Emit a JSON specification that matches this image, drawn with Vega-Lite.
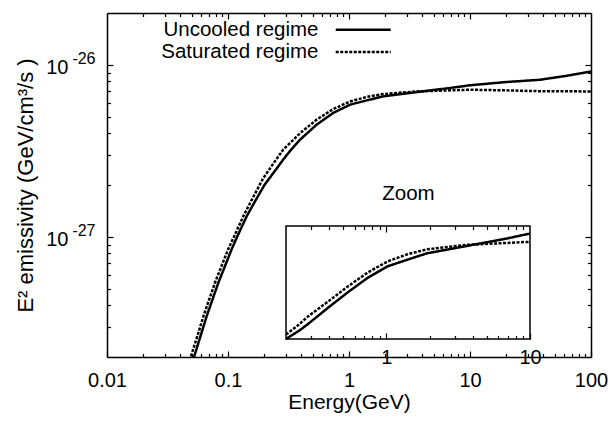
{
  "$schema": "https://vega.github.io/schema/vega-lite/v6.json",
  "width": 484,
  "height": 344,
  "autosize": {"type": "none"},
  "padding": {"left": 107, "top": 13, "right": 23, "bottom": 66},
  "background": "white",
  "config": {
    "view": {"stroke": null},
    "font": "Liberation Sans",
    "axis": {
      "grid": false,
      "domainColor": "black",
      "domainWidth": 1.5,
      "tickColor": "black",
      "tickWidth": 1.2,
      "labelColor": "black",
      "labelFont": "Liberation Sans",
      "labelFontSize": 20,
      "titleFont": "Liberation Sans",
      "titleFontSize": 21,
      "titleFontWeight": "normal",
      "titleColor": "black"
    },
    "legend": {
      "labelFont": "Liberation Sans",
      "labelFontSize": 20.5,
      "labelColor": "black"
    }
  },
  "data": {
    "values": [
      {"E": 0.05, "v": 1.8e-28, "regime": "Uncooled regime"},
      {"E": 0.0524, "v": 2.0e-28, "regime": "Uncooled regime"},
      {"E": 0.06, "v": 2.72e-28, "regime": "Uncooled regime"},
      {"E": 0.0667, "v": 3.46e-28, "regime": "Uncooled regime"},
      {"E": 0.0832, "v": 5.4e-28, "regime": "Uncooled regime"},
      {"E": 0.107, "v": 8.43e-28, "regime": "Uncooled regime"},
      {"E": 0.119, "v": 1.0e-27, "regime": "Uncooled regime"},
      {"E": 0.143, "v": 1.32e-27, "regime": "Uncooled regime"},
      {"E": 0.17, "v": 1.64e-27, "regime": "Uncooled regime"},
      {"E": 0.2, "v": 2.0e-27, "regime": "Uncooled regime"},
      {"E": 0.25, "v": 2.47e-27, "regime": "Uncooled regime"},
      {"E": 0.286, "v": 2.81e-27, "regime": "Uncooled regime"},
      {"E": 0.325, "v": 3.15e-27, "regime": "Uncooled regime"},
      {"E": 0.394, "v": 3.67e-27, "regime": "Uncooled regime"},
      {"E": 0.541, "v": 4.49e-27, "regime": "Uncooled regime"},
      {"E": 0.741, "v": 5.25e-27, "regime": "Uncooled regime"},
      {"E": 1.02, "v": 5.86e-27, "regime": "Uncooled regime"},
      {"E": 1.4, "v": 6.21e-27, "regime": "Uncooled regime"},
      {"E": 1.92, "v": 6.55e-27, "regime": "Uncooled regime"},
      {"E": 3.63, "v": 6.94e-27, "regime": "Uncooled regime"},
      {"E": 6.84, "v": 7.33e-27, "regime": "Uncooled regime"},
      {"E": 10, "v": 7.6e-27, "regime": "Uncooled regime"},
      {"E": 20, "v": 7.94e-27, "regime": "Uncooled regime"},
      {"E": 37.7, "v": 8.18e-27, "regime": "Uncooled regime"},
      {"E": 63, "v": 8.63e-27, "regime": "Uncooled regime"},
      {"E": 100, "v": 9.14e-27, "regime": "Uncooled regime"},
      {"E": 0.047, "v": 1.8e-28, "regime": "Saturated regime"},
      {"E": 0.0492, "v": 2.0e-28, "regime": "Saturated regime"},
      {"E": 0.0565, "v": 2.72e-28, "regime": "Saturated regime"},
      {"E": 0.0627, "v": 3.46e-28, "regime": "Saturated regime"},
      {"E": 0.078, "v": 5.4e-28, "regime": "Saturated regime"},
      {"E": 0.1, "v": 8.43e-28, "regime": "Saturated regime"},
      {"E": 0.112, "v": 1.0e-27, "regime": "Saturated regime"},
      {"E": 0.134, "v": 1.32e-27, "regime": "Saturated regime"},
      {"E": 0.165, "v": 1.75e-27, "regime": "Saturated regime"},
      {"E": 0.196, "v": 2.2e-27, "regime": "Saturated regime"},
      {"E": 0.2, "v": 2.24e-27, "regime": "Saturated regime"},
      {"E": 0.24, "v": 2.7e-27, "regime": "Saturated regime"},
      {"E": 0.286, "v": 3.21e-27, "regime": "Saturated regime"},
      {"E": 0.394, "v": 4.0e-27, "regime": "Saturated regime"},
      {"E": 0.541, "v": 4.8e-27, "regime": "Saturated regime"},
      {"E": 0.741, "v": 5.53e-27, "regime": "Saturated regime"},
      {"E": 1.02, "v": 6.12e-27, "regime": "Saturated regime"},
      {"E": 1.4, "v": 6.5e-27, "regime": "Saturated regime"},
      {"E": 1.92, "v": 6.76e-27, "regime": "Saturated regime"},
      {"E": 3.63, "v": 7.0e-27, "regime": "Saturated regime"},
      {"E": 6.84, "v": 7.1e-27, "regime": "Saturated regime"},
      {"E": 10, "v": 7.16e-27, "regime": "Saturated regime"},
      {"E": 20, "v": 7.1e-27, "regime": "Saturated regime"},
      {"E": 37.7, "v": 7.02e-27, "regime": "Saturated regime"},
      {"E": 100, "v": 7.0e-27, "regime": "Saturated regime"}
    ]
  },
  "layer": [
    {
      "layer": [
        {
          "mark": {"type": "line", "color": "black", "strokeWidth": 2.5, "clip": true},
          "encoding": {
            "x": {
              "field": "E", "type": "quantitative",
              "scale": {"type": "log", "domain": [0.01, 100], "nice": false},
              "axis": {
                "orient": "bottom",
                "title": "Energy(GeV)",
                "titlePadding": -1,
                "labelPadding": 19,
                "values": [0.01,0.02,0.03,0.04,0.05,0.06,0.07,0.08,0.09,0.1,0.2,0.3,0.4,0.5,0.6,0.7,0.8,0.9,1,2,3,4,5,6,7,8,9,10,20,30,40,50,60,70,80,90,100],
                "labelExpr": "datum.value==0.01?'0.01':datum.value==0.1?'0.1':datum.value==1?'1':datum.value==10?'10':datum.value==100?'100':''",
                "tickSize": {"condition": {"test": "datum.value==0.01||datum.value==0.1||datum.value==1||datum.value==10||datum.value==100", "value": -6}, "value": -3.5},
                "labelFlush": false,
                "labelOverlap": false
              }
            },
            "y": {
              "field": "v", "type": "quantitative",
              "scale": {"type": "log", "domain": [2e-28, 2e-26], "nice": false},
              "axis": {
                "orient": "left",
                "title": "E² emissivity (GeV/cm³/s )",
                "titleFontSize": 22,
                "titlePadding": 8,
                "labelPadding": 45,
                "labelOffset": 3,
                "values": [3e-28,4e-28,5e-28,6e-28,7e-28,8e-28,9e-28,1e-27,2e-27,3e-27,4e-27,5e-27,6e-27,7e-27,8e-27,9e-27,1e-26],
                "labelExpr": "datum.value==1e-26||datum.value==1e-27?'10':''",
                "tickSize": {"condition": {"test": "datum.value==1e-26||datum.value==1e-27", "value": -6}, "value": -3.5},
                "labelOverlap": false,
                "labelFlush": false
              }
            },
            "strokeDash": {
              "field": "regime", "type": "nominal",
              "scale": {"domain": ["Uncooled regime", "Saturated regime"], "range": [[1, 0], [3, 1.5]]},
              "legend": {
                "orient": "none",
                "legendX": 0,
                "legendY": 6.5,
                "title": null,
                "padding": 0,
                "symbolType": "M-5,0H5",
                "symbolSize": 121,
                "symbolStrokeWidth": 2.5,
                "symbolStrokeColor": "black",
                "symbolOffset": 246,
                "labelAlign": "right",
                "labelOffset": -55,
                "rowPadding": 1.2
              }
            }
          }
        },
        {
          "mark": {"type": "line", "strokeOpacity": 0},
          "encoding": {
            "x": {
              "field": "E", "type": "quantitative",
              "axis": {
                "orient": "top", "title": null, "labels": false,
                "values": [0.02,0.03,0.04,0.05,0.06,0.07,0.08,0.09,0.1,0.2,0.3,0.4,0.5,0.6,0.7,0.8,0.9,1,2,3,4,5,6,7,8,9,10,20,30,40,50,60,70,80,90],
                "tickSize": {"condition": {"test": "datum.value==0.1||datum.value==1||datum.value==10", "value": -6}, "value": -3.5}
              }
            },
            "y": {
              "field": "v", "type": "quantitative",
              "axis": {
                "orient": "right", "title": null, "labels": false,
                "values": [3e-28,4e-28,5e-28,6e-28,7e-28,8e-28,9e-28,1e-27,2e-27,3e-27,4e-27,5e-27,6e-27,7e-27,8e-27,9e-27,1e-26],
                "tickSize": {"condition": {"test": "datum.value==1e-26||datum.value==1e-27", "value": -6}, "value": -3.5}
              }
            },
            "detail": {"field": "regime"}
          }
        },
        {
          "mark": {"type": "line", "strokeOpacity": 0},
          "encoding": {
            "x": {"field": "E", "type": "quantitative", "axis": null},
            "y": {
              "field": "v", "type": "quantitative",
              "axis": {
                "orient": "left", "title": null, "ticks": false, "domain": false,
                "labelFontSize": 16,
                "labelPadding": 12,
                "labelOffset": -6,
                "values": [1e-27, 1e-26],
                "labelExpr": "datum.value==1e-26?'-26':'-27'",
                "labelOverlap": false,
                "labelFlush": false
              }
            },
            "detail": {"field": "regime"}
          }
        }
      ],
      "resolve": {"axis": {"x": "independent", "y": "independent"}}
    },
    {
      "transform": [{"filter": "datum.E >= 0.2 && datum.E <= 10"}],
      "layer": [
        {
          "mark": {"type": "line", "color": "black", "strokeWidth": 2.5},
          "encoding": {
            "x": {
              "field": "E", "type": "quantitative",
              "scale": {"type": "log", "domain": [0.2, 10], "range": [179, 423], "nice": false},
              "axis": {
                "orient": "bottom", "offset": -18, "title": null, "domain": false,
                "labelPadding": 14,
                "values": [0.3,0.4,0.5,0.6,0.7,0.8,0.9,1,2,3,4,5,6,7,8,9,10],
                "labelExpr": "datum.value==1?'1':datum.value==10?'10':''",
                "tickSize": {"condition": {"test": "datum.value==1||datum.value==10", "value": -6}, "value": -3.5},
                "labelFlush": false,
                "labelOverlap": false
              }
            },
            "y": {
              "field": "v", "type": "quantitative",
              "scale": {"type": "linear", "domain": [2e-27, 8e-27], "range": [326, 213], "nice": false, "zero": false},
              "axis": null
            },
            "strokeDash": {
              "field": "regime", "type": "nominal",
              "scale": {"domain": ["Uncooled regime", "Saturated regime"], "range": [[1, 0], [3, 1.5]]},
              "legend": null
            }
          }
        },
        {
          "mark": {"type": "line", "strokeOpacity": 0},
          "encoding": {
            "x": {
              "field": "E", "type": "quantitative",
              "axis": {
                "orient": "top", "offset": -213, "title": "Zoom", "titleFontSize": 20.5, "titlePadding": 22, "domain": false, "labels": false,
                "values": [0.3,0.4,0.5,0.6,0.7,0.8,0.9,1,2,3,4,5,6,7,8,9],
                "tickSize": {"condition": {"test": "datum.value==1", "value": -6}, "value": -3.5}
              }
            },
            "y": {"field": "v", "type": "quantitative", "axis": null},
            "detail": {"field": "regime"}
          }
        },
        {
          "data": {"values": [{}]},
          "mark": {"type": "rect", "fill": null, "stroke": "black", "strokeWidth": 1.5},
          "encoding": {
            "x": {"datum": 0.2, "type": "quantitative", "axis": null},
            "x2": {"datum": 10},
            "y": {"datum": 2e-27, "type": "quantitative", "axis": null},
            "y2": {"datum": 8e-27}
          }
        }
      ],
      "resolve": {"axis": {"x": "independent"}}
    }
  ],
  "resolve": {"scale": {"x": "independent", "y": "independent", "strokeDash": "independent"}}
}
